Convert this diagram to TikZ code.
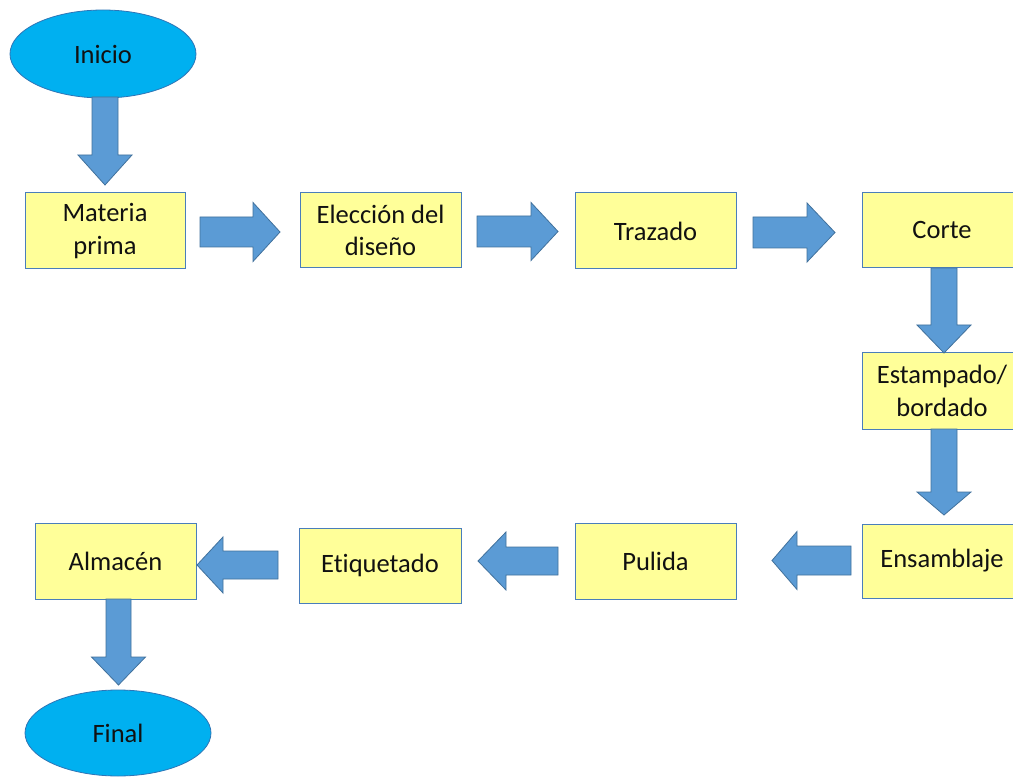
\documentclass[tikz,border=0pt]{standalone}
\usepackage{fontspec}
\setmainfont{Carlito}[Ligatures={NoCommon}]
\usetikzlibrary{calc,shapes.geometric}
\definecolor{boxfill}{HTML}{FFFF99}
\definecolor{boxline}{HTML}{4A7EBB}
\definecolor{ellfill}{HTML}{00B0F0}
\definecolor{ellline}{HTML}{2E75B6}
\definecolor{arrfill}{HTML}{5B9BD5}
\definecolor{arrline}{HTML}{41719C}
\definecolor{txt}{HTML}{111111}
% #1 tail, #2 tip, #3 shaft half width, #4 head half width, #5 head length
\newcommand{\blockarrow}[5]{%
  \draw[blockarr]
    ($(#1)!#3!90:(#2)$) -- ($($(#2)!#5!(#1)$)!#3!-90:(#1)$) --
    ($($(#2)!#5!(#1)$)!#4!-90:(#1)$) -- (#2) --
    ($($(#2)!#5!(#1)$)!#4!90:(#1)$) -- ($($(#2)!#5!(#1)$)!#3!90:(#1)$) --
    ($(#1)!#3!-90:(#2)$) -- cycle;}
\tikzset{
  stepbox/.style={draw=boxline, line width=1pt, fill=boxfill, inner sep=0pt,
    align=center, text=txt, font=\fontsize{26.5}{32.5}\selectfont},
  terminal/.style={ellipse, draw=ellline, line width=0.8pt, fill=ellfill, inner sep=0pt,
    text=txt, font=\fontsize{26.5}{32.5}\selectfont, minimum width=186pt, minimum height=88pt},
  blockarr/.style={draw=arrline, line width=0.8pt, fill=arrfill, line join=miter},
}
\begin{document}
\begin{tikzpicture}[x=1pt,y=-1pt]
\useasboundingbox (0,0) rectangle (1013,778);
\clip (0,0) rectangle (1013,778);
\fill[white] (0,0) rectangle (1013,778);

% terminals
\node[terminal] (inicio) at (103,54) {Inicio};
\node[terminal, minimum height=86pt] (final) at (118,733) {Final};

% process boxes
\node[stepbox, minimum width=160pt, minimum height=76pt] (mp) at (105,231) {Materia\\prima};
\node[stepbox, minimum width=161pt, minimum height=75pt] (el) at (380.5,230.5) {Elección del\\diseño};
\node[stepbox, minimum width=161pt, minimum height=76pt] (tr) at (655.5,231) {Trazado};
\node[stepbox, minimum width=160pt, minimum height=75pt] (co) at (942,230.5) {Corte};
\node[stepbox, minimum width=160pt, minimum height=76pt] (es) at (942,391) {Estampado/\\bordado};
\node[stepbox, minimum width=160pt, minimum height=74pt] (en) at (942,561) {Ensamblaje};
\node[stepbox, minimum width=161pt, minimum height=76pt] (pu) at (655.5,561) {Pulida};
\node[stepbox, minimum width=162pt, minimum height=75pt] (et) at (380,565.5) {Etiquetado};
\node[stepbox, minimum width=161pt, minimum height=76pt] (al) at (115.5,561) {Almacén};

% arrow end points
\coordinate (d0t) at (105,97);   \coordinate (d0h) at (105,185);
\coordinate (a1t) at (200,232);  \coordinate (a1h) at (280,232);
\coordinate (a2t) at (477,231.5);\coordinate (a2h) at (558,231.5);
\coordinate (a3t) at (753,232.5);\coordinate (a3h) at (835,232.5);
\coordinate (d1t) at (944,268);  \coordinate (d1h) at (944,353);
\coordinate (d2t) at (944,429);  \coordinate (d2h) at (944,515);
\coordinate (l1t) at (851,560.5);\coordinate (l1h) at (772,560.5);
\coordinate (l2t) at (558,561);  \coordinate (l2h) at (478,561);
\coordinate (l3t) at (278,565);  \coordinate (l3h) at (197,565);
\coordinate (d3t) at (118.5,599);\coordinate (d3h) at (118.5,685);

\blockarrow{d0t}{d0h}{13pt}{27pt}{30pt}
\blockarrow{a1t}{a1h}{15pt}{29.5pt}{27pt}
\blockarrow{a2t}{a2h}{15.5pt}{29pt}{27pt}
\blockarrow{a3t}{a3h}{15.5pt}{29.5pt}{28pt}
\blockarrow{d1t}{d1h}{13pt}{27pt}{28pt}
\blockarrow{d2t}{d2h}{13pt}{27pt}{23pt}
\blockarrow{l1t}{l1h}{14.5pt}{29pt}{25pt}
\blockarrow{l2t}{l2h}{14pt}{29pt}{28pt}
\blockarrow{l3t}{l3h}{14pt}{28pt}{26pt}
\blockarrow{d3t}{d3h}{12.5pt}{27pt}{28pt}
\end{tikzpicture}
\end{document}
